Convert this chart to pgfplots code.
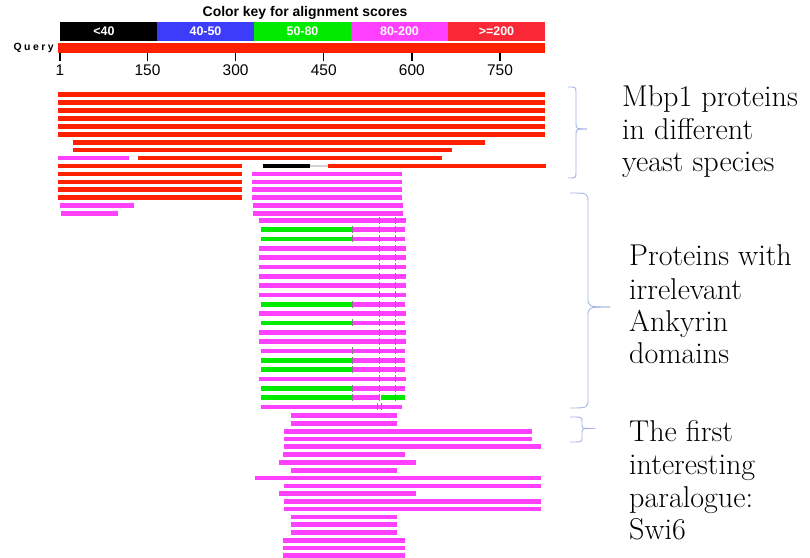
\documentclass[border=0pt]{standalone}
\usepackage{fontspec}
\usepackage{pgfplots}
\pgfplotsset{compat=1.18}
\newfontfamily\arial{Liberation Sans}
\definecolor{barred}{RGB}{255,32,0}
\definecolor{keyred}{RGB}{250,40,55}
\definecolor{keyblue}{RGB}{60,60,250}
\definecolor{keygreen}{RGB}{0,235,0}
\definecolor{keypink}{RGB}{255,64,255}
\definecolor{barpink}{RGB}{255,64,255}
\definecolor{bargreen}{RGB}{0,235,0}
\definecolor{bracecol}{RGB}{165,180,230}
\newcommand{\brc}[7]{%
  \draw[bracecol, line width=0.9bp]
    (#1,{558-#4}) .. controls (#2,{558-#4}) .. (#2,{558-#4-#7}) -- (#2,{558-#5+#7})
    .. controls (#2,{558-#5}) .. (#3,{558-#5});
  \draw[bracecol, line width=0.9bp]
    (#3,{558-#5}) .. controls (#2,{558-#5}) .. (#2,{558-#5-#7}) -- (#2,{558-#6+#7})
    .. controls (#2,{558-#6}) .. (#1,{558-#6});}
\begin{document}
\begin{tikzpicture}[x=1bp,y=1bp]
\path[use as bounding box] (0,0) rectangle (810,558);
% colour key
\fill[black]    (60,536) rectangle (157,517);
\fill[keyblue]  (157,536) rectangle (254,517);
\fill[keygreen] (254,536) rectangle (351,517);
\fill[keypink]  (351,536) rectangle (448,517);
\fill[keyred]   (448,536) rectangle (545,517);
\node[anchor=base, font=\arial\bfseries\fontsize{14}{14}\selectfont, inner sep=0] at (305,541.5) {Color key for alignment scores};
\begin{scope}[every node/.style={anchor=base, text=white, inner sep=0, font=\arial\bfseries\fontsize{12.5}{12.5}\selectfont}]
\node at (104,522.3) {<40};
\node at (205.5,522.3) {40-50};
\node at (302.5,522.3) {50-80};
\node at (399.5,522.3) {80-200};
\node at (496.5,522.3) {>=200};
\end{scope}
\node[anchor=base east, inner sep=0, font=\arial\bfseries\fontsize{10.5}{11}\selectfont\addfontfeature{LetterSpace=24}] at (54,507.3) {Query};
\begin{axis}[name=main, at={(0bp,0bp)}, anchor=south west, scale only axis,
  width=810bp, height=558bp, xmin=-98.1, xmax=1285.8, ymin=0, ymax=558,
  y dir=reverse, hide axis, clip=false, unbounded coords=jump]
% query
\addplot[barred, line width=10bp] coordinates {(1,47.7)(833,47.7)};
% red hits (score >= 200)
\addplot[barred, line width=4.5bp] coordinates {
(1,94.5)(833,94.5)(0,nan)
(1,102.6)(833,102.6)(0,nan)
(1,110.7)(833,110.7)(0,nan)
(1,118.4)(833,118.4)(0,nan)
(1,126.6)(833,126.6)(0,nan)
(1,134.3)(833,134.3)(0,nan)
(27,142.4)(731,142.4)(0,nan)
(27,150.2)(674,150.2)(0,nan)
(138,158)(657,158)(0,nan)
(1,166.1)(315,166.1)(0,nan)
(463,166.1)(835,166.1)(0,nan)
(1,173.9)(315,173.9)(0,nan)
(1,182)(315,182)(0,nan)
(1,189.7)(315,189.7)(0,nan)
(1,197.5)(315,197.5)
};
% black hit (<40) and gap
\addplot[gray!35, line width=1.5bp] coordinates {(432,166.1)(463,166.1)};
\addplot[black, line width=4.5bp] coordinates {(351,166.1)(432,166.1)};
% pink hits (80-200)
\addplot[barpink, line width=4.5bp] coordinates {
(1,158)(123,158)(0,nan)
(332,173.9)(588,173.9)(0,nan)
(332,182)(588,182)(0,nan)
(332,189.7)(588,189.7)(0,nan)
(332,197.5)(588,197.5)(0,nan)
(4,205.6)(130,205.6)(0,nan)
(334,205.6)(590,205.6)(0,nan)
(6,213.4)(104,213.4)(0,nan)
(334,213.4)(590,213.4)(0,nan)
(345,220.3)(595,220.3)(0,nan)
(505,229.7)(593,229.7)(0,nan)
(505,239)(593,239)(0,nan)
(345,248.3)(595,248.3)(0,nan)
(345,257.7)(595,257.7)(0,nan)
(345,267)(595,267)(0,nan)
(345,276.3)(595,276.3)(0,nan)
(345,285.7)(595,285.7)(0,nan)
(345,295)(595,295)(0,nan)
(505,304.3)(593,304.3)(0,nan)
(345,313.7)(595,313.7)(0,nan)
(505,323)(593,323)(0,nan)
(345,332.3)(595,332.3)(0,nan)
(345,341.7)(595,341.7)(0,nan)
(348,351)(593,351)(0,nan)
(505,360.3)(593,360.3)(0,nan)
(505,369.7)(593,369.7)(0,nan)
(345,379)(595,379)(0,nan)
(505,388.3)(593,388.3)(0,nan)
(505,397.7)(549,397.7)(0,nan)
(348,407)(589,407)(0,nan)
(399,415.7)(580,415.7)(0,nan)
(399,423.3)(580,423.3)(0,nan)
(387,431.3)(810,431.3)(0,nan)
(387,439)(810,439)(0,nan)
(387,446.7)(826,446.7)(0,nan)
(385,454.7)(593,454.7)(0,nan)
(379,462.3)(612,462.3)(0,nan)
(399,470.3)(580,470.3)(0,nan)
(338,478)(826,478)(0,nan)
(387,486)(826,486)(0,nan)
(379,493.7)(612,493.7)(0,nan)
(387,501.3)(826,501.3)(0,nan)
(387,509)(826,509)(0,nan)
(399,517)(580,517)(0,nan)
(399,524.7)(580,524.7)(0,nan)
(399,532.7)(580,532.7)(0,nan)
(385,540.3)(593,540.3)(0,nan)
(385,548)(593,548)(0,nan)
(385,555.7)(593,555.7)
};
% green hits (50-80)
\addplot[bargreen, line width=4.5bp] coordinates {
(348,229.7)(503,229.7)(0,nan)
(348,239)(503,239)(0,nan)
(348,304.3)(503,304.3)(0,nan)
(348,323)(503,323)(0,nan)
(348,360.3)(503,360.3)(0,nan)
(348,369.7)(503,369.7)(0,nan)
(348,388.3)(503,388.3)(0,nan)
(348,397.7)(503,397.7)(0,nan)
(552,397.7)(593,397.7)
};
% segment separators
\addplot[only marks, mark=|, mark size=3.5bp, mark options={draw=gray, line width=1.1bp}] coordinates {
(550,220.3)(578,220.3)
(504,229.7)(550,229.7)(578,229.7)
(504,239)(550,239)(578,239)
(550,248.3)(578,248.3)
(550,257.7)(578,257.7)
(550,267)(578,267)
(550,276.3)(578,276.3)
(550,285.7)(578,285.7)
(550,295)(578,295)
(504,304.3)(550,304.3)(578,304.3)
(550,313.7)(578,313.7)
(504,323)(550,323)(578,323)
(550,332.3)(578,332.3)
(550,341.7)(578,341.7)
(504,351)(550,351)(578,351)
(504,360.3)(550,360.3)(578,360.3)
(504,369.7)(550,369.7)(578,369.7)
(550,379)(578,379)
(504,388.3)(550,388.3)(578,388.3)
(504,397.7)(550,397.7)(578,397.7)
(547,407)(554,407)
};
\end{axis}
% position ruler
\begin{scope}[shift={(0bp,504.7bp)}]
\begin{axis}[at={(0bp,0bp)}, anchor=south west, scale only axis,
  width=810bp, height=4bp, xmin=-101.1, xmax=1277.8, ymin=0, ymax=1,
  axis x line=bottom, axis line style={draw=none}, hide y axis,
  xtick={1,150,300,450,600,750}, tick align=outside,
  major tick length=8bp, tick style={black, line width=1.4bp},
  /pgf/number format/assume math mode=true,
  xticklabel style={font=\arial\fontsize{15.5}{15.5}\selectfont, inner sep=1bp, yshift=-2.5bp}]
\addplot[draw=none] coordinates {(1,0)(750,0)};
\end{axis}
\end{scope}
% braces
\brc{568}{576}{587}{87}{129}{178}{6}
\brc{570}{588}{610}{193}{307}{408}{10}
\brc{570}{582}{595}{417}{428.5}{442}{4}
% annotations
\begin{scope}[every node/.style={anchor=base west, inner sep=0, font=\fontsize{30.2}{33}\selectfont}]
\node at (622,451.3) {Mbp1 proteins};
\node at (622,418.7) {in different};
\node at (622,386.3) {yeast species};
\node at (629,292) {Proteins with};
\node at (629,258.7) {irrelevant};
\node at (629,226.3) {Ankyrin};
\node at (629,194) {domains};
\node at (629,116.3) {The first};
\node at (629,83) {interesting};
\node at (629,50.7) {paralogue:};
\node at (629,18) {Swi6};
\end{scope}
\end{tikzpicture}
\end{document}
